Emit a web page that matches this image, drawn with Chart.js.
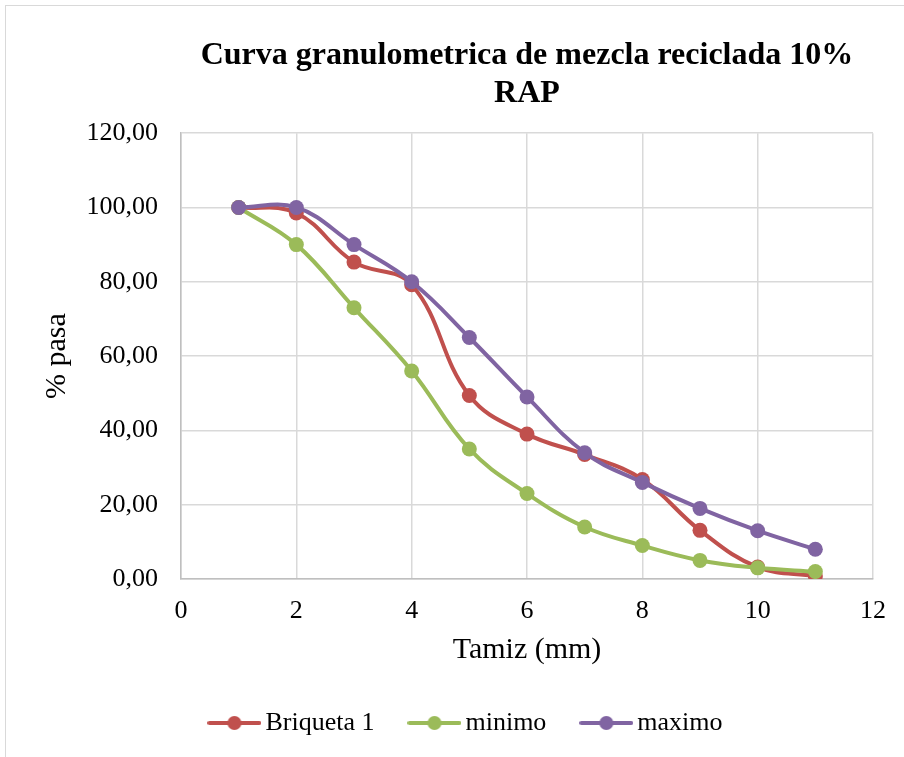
<!DOCTYPE html>
<html>
<head>
<meta charset="utf-8">
<script src="https://cdn.jsdelivr.net/npm/chart.js@4.4.1/dist/chart.umd.min.js"></script>
<style>
  html, body { margin: 0; padding: 0; background: #fff; overflow: hidden; }
  #marco { position: absolute; left: 5px; top: 5px; width: 920px; height: 780px; border: 1px solid #d9d9d9; }
  #zona { position: absolute; left: 0; top: 0; width: 904px; height: 757px; }
</style>
</head>
<body>
<div id="marco"></div>
<div id="zona"><canvas id="grafico"></canvas></div>
<script>
// Données
const tamiz = [1, 2, 3, 4, 5, 6, 7, 8, 9, 10, 11];
const briqueta1 = [100, 98.5, 85.3, 79.2, 49.4, 39.0, 33.5, 26.8, 13.1, 3.2, 0.8];
const minimo = [100, 90, 73, 56, 35, 23, 14, 9, 5, 3, 2];
const maximo = [100, 100, 90, 80, 65, 49, 34, 26, 19, 13, 8];
const ticksY = [0, 20, 40, 60, 80, 100, 120];
const ticksX = [0, 2, 4, 6, 8, 10, 12];

const fuente = "'Liberation Serif', 'Times New Roman', serif";

function puntos(valores) {
    return tamiz.map((x, i) => ({ x: x, y: valores[i] }));
}

// Petite image ligne + point pour la légende
function iconoLeyenda(color) {
    const c = document.createElement('canvas');
    c.width = 54;
    c.height = 16;
    const g = c.getContext('2d');
    g.strokeStyle = color;
    g.lineWidth = 4;
    g.lineCap = 'round';
    g.beginPath();
    g.moveTo(2, 8);
    g.lineTo(52, 8);
    g.stroke();
    g.fillStyle = color;
    g.beginPath();
    g.arc(27, 8, 7, 0, Math.PI * 2);
    g.fill();
    return c;
}

function serie(etiqueta, valores, color, orden) {
    return {
        label: etiqueta,
        data: puntos(valores),
        borderColor: color,
        backgroundColor: color,
        pointBackgroundColor: color,
        pointBorderColor: color,
        borderWidth: 4,
        pointRadius: 7.5,
        pointBorderWidth: 0,
        tension: 0.4,
        order: orden,
        pointStyle: 'circle',
        icono: iconoLeyenda(color)
    };
}

const ctx = document.getElementById('grafico').getContext('2d');

new Chart(ctx, {
    type: 'line',
    data: {
        datasets: [
            serie('Briqueta 1', briqueta1, '#C0504D', 3),
            serie('minimo', minimo, '#9BBB59', 2),
            serie('maximo', maximo, '#8064A2', 1)
        ]
    },
    options: {
        responsive: true,
        maintainAspectRatio: false,
        animation: false,
        layout: { padding: { left: 66, right: 31, top: 37, bottom: 11 } },
        plugins: {
            title: {
                display: true,
                fullSize: false,
                text: ['Curva granulometrica de mezcla reciclada 10%', 'RAP'],
                color: '#000',
                font: { family: fuente, size: 32, weight: 'bold', lineHeight: 1.19 },
                padding: { top: 0, bottom: 20 }
            },
            legend: {
                position: 'bottom',
                labels: {
                    color: '#000',
                    font: { family: fuente, size: 26 },
                    usePointStyle: true,
                    pointStyleWidth: 36,
                    boxHeight: 16,
                    padding: 42,
                    sort: (a, b) => a.datasetIndex - b.datasetIndex,
                    generateLabels: (chart) => chart.data.datasets.map((d, i) => ({
                        text: d.label,
                        fillStyle: d.borderColor,
                        strokeStyle: d.borderColor,
                        pointStyle: d.icono,
                        fontColor: '#000',
                        lineWidth: 0,
                        datasetIndex: i,
                        hidden: false
                    }))
                }
            },
            tooltip: { enabled: false }
        },
        scales: {
            x: {
                type: 'linear',
                min: 0,
                max: 12,
                afterBuildTicks: (s) => { s.ticks = ticksX.map(v => ({ value: v })); },
                afterFit: (s) => { s.height = 89; },
                grid: { color: '#d9d9d9', lineWidth: 1.5, drawTicks: false },
                border: { color: '#bfbfbf', width: 1.5 },
                ticks: { color: '#000', font: { family: fuente, size: 26 }, padding: 17 },
                title: {
                    display: true,
                    text: 'Tamiz (mm)',
                    color: '#000',
                    font: { family: fuente, size: 30 },
                    padding: { top: 0, bottom: 0 }
                }
            },
            y: {
                min: 0,
                max: 120,
                afterBuildTicks: (s) => { s.ticks = ticksY.map(v => ({ value: v })); },
                afterFit: (s) => { s.width = 115; },
                grid: { color: '#d9d9d9', lineWidth: 1.5, drawTicks: false },
                border: { color: '#bfbfbf', width: 1.5 },
                ticks: {
                    color: '#000',
                    font: { family: fuente, size: 26 },
                    padding: 23,
                    callback: (v) => v.toFixed(2).replace('.', ',')
                },
                title: {
                    display: true,
                    text: '% pasa',
                    color: '#000',
                    font: { family: fuente, size: 30 },
                    padding: { top: -27, bottom: 0 }
                }
            }
        }
    }
});
</script>
</body>
</html>
